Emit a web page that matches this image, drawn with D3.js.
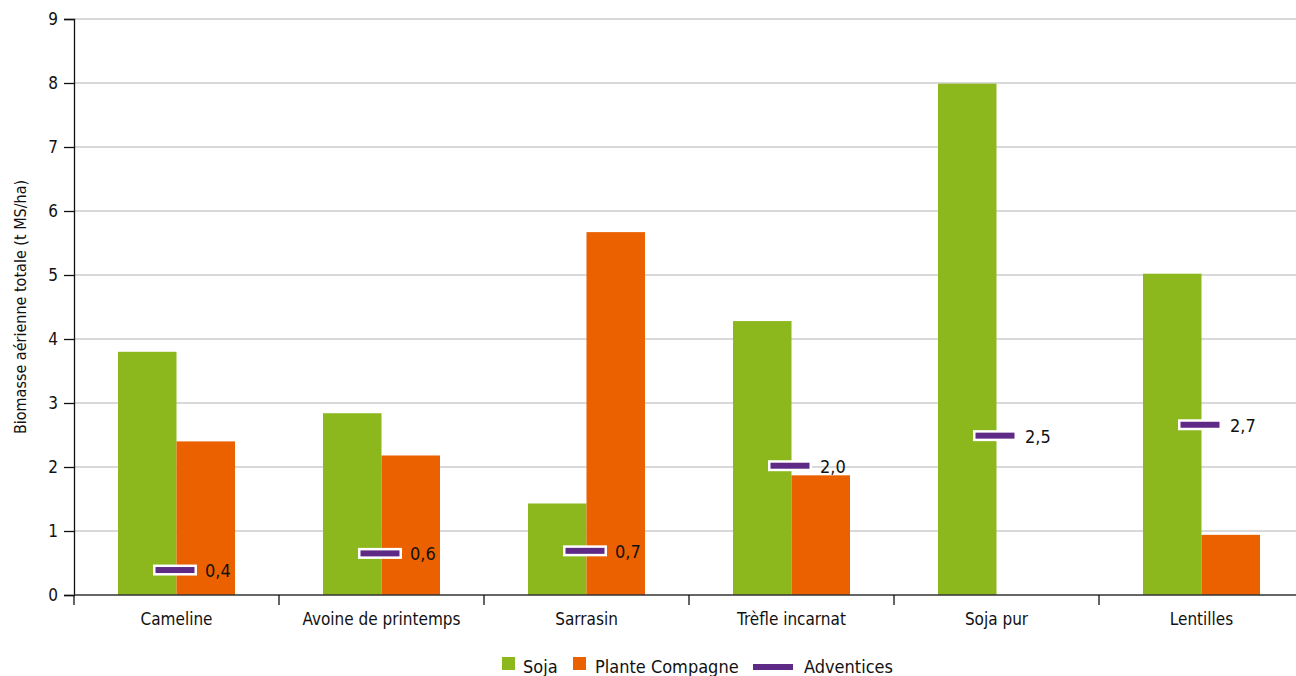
<!DOCTYPE html>
<html><head><meta charset="utf-8">
<script src="https://cdn.jsdelivr.net/npm/d3@7/dist/d3.min.js"></script>
<style>
body{margin:0;background:#fff;}
text{font-family:"Liberation Sans Narrow","DejaVu Sans Condensed","Liberation Sans",sans-serif;fill:#111;}
</style></head><body>
<svg id="c" width="1296" height="676"></svg>
<script>
const categories = ["Cameline","Avoine de printemps","Sarrasin","Trèfle incarnat","Soja pur","Lentilles"];
const soja = [3.8, 2.84, 1.43, 4.28, 7.99, 5.02];
const compagne = [2.4, 2.18, 5.67, 1.87, 0, 0.94];
const adventices = [0.39, 0.65, 0.69, 2.02, 2.49, 2.66];
const adventicesLabels = ["0,4","0,6","0,7","2,0","2,5","2,7"];
const yTicks = [0,1,2,3,4,5,6,7,8,9];
const seriesNames = ["Soja","Plante Compagne","Adventices"];
const colors = {soja:"#8cb81e", compagne:"#eb6100", adv:"#5f2a85"};

(function(){
const svg = d3.select("#c");
const mLeft=74, mRight=1304, mTop=19, mBottom=595;
const x = d3.scaleBand().domain(categories).range([mLeft,mRight]).paddingInner(0).paddingOuter(0);
const y = d3.scaleLinear().domain([0,9]).range([mBottom,mTop]);
const barW = 58.5;

// grid
svg.append("g").selectAll("line").data(yTicks.filter(d=>d>0)).join("line")
  .attr("x1",mLeft).attr("x2",1296).attr("y1",d=>y(d)).attr("y2",d=>y(d))
  .attr("stroke","#d9d9d9").attr("stroke-width",2);

// bars
const g = svg.append("g");
categories.forEach((c,i)=>{
  const cx = x(c)+x.bandwidth()/2;
  g.append("rect").attr("x",cx-barW).attr("width",barW).attr("y",y(soja[i])).attr("height",y(0)-y(soja[i])).attr("fill",colors.soja);
  if(compagne[i]>0) g.append("rect").attr("x",cx).attr("width",barW).attr("y",y(compagne[i])).attr("height",y(0)-y(compagne[i])).attr("fill",colors.compagne);
});

// axes
const yAxis = d3.axisLeft(y).tickValues(yTicks).tickSize(10).tickPadding(6);
const ya = svg.append("g").attr("transform",`translate(${mLeft},0)`).call(yAxis);
ya.select(".domain").attr("stroke","#111").attr("stroke-width",1.3);
ya.selectAll(".tick line").attr("stroke","#111").attr("stroke-width",1.3);
ya.selectAll(".tick text").style("font-size","17px").attr("fill","#111");

const xAxis = d3.axisBottom(x).tickSize(0).tickPadding(18);
const xa = svg.append("g").attr("transform",`translate(0,${mBottom})`).call(xAxis);
xa.select(".domain").remove();
xa.append("line").attr("x1",mLeft).attr("x2",1296).attr("y1",0).attr("y2",0).attr("stroke","#333").attr("stroke-width",1.5);
xa.selectAll(".tick text").style("font-size","17px").attr("fill","#111");
xa.selectAll(".sep").data(categories.concat(["end"])).join("line").attr("class","sep")
  .attr("x1",(d,i)=>mLeft+i*x.bandwidth()).attr("x2",(d,i)=>mLeft+i*x.bandwidth())
  .attr("y1",0).attr("y2",10).attr("stroke","#111").attr("stroke-width",1.3);

// adventices markers
categories.forEach((c,i)=>{
  const cx = x(c)+x.bandwidth()/2 - 1.5;
  const yy = y(adventices[i]);
  svg.append("rect").attr("x",cx-22).attr("y",yy-5.5).attr("width",44).attr("height",11).attr("fill","#fff");
  svg.append("rect").attr("x",cx-19.5).attr("y",yy-3).attr("width",39).attr("height",6).attr("fill",colors.adv);
  svg.append("text").attr("x",cx+30).attr("y",yy+7).style("font-size","18px").text(adventicesLabels[i]);
});

// y title
svg.append("text").attr("transform",`translate(26,${(mTop+mBottom)/2}) rotate(-90)`).attr("text-anchor","middle")
  .style("font-size","16px").text("Biomasse aérienne totale (t MS/ha)");

// legend
const lg = svg.append("g");
lg.append("rect").attr("x",502).attr("y",657).attr("width",13).attr("height",13).attr("fill",colors.soja);
lg.append("text").attr("x",523).attr("y",673).style("font-size","18px").text(seriesNames[0]);
lg.append("rect").attr("x",573).attr("y",657).attr("width",13).attr("height",13).attr("fill",colors.compagne);
lg.append("text").attr("x",595).attr("y",673).style("font-size","18px").text(seriesNames[1]);
lg.append("rect").attr("x",753).attr("y",664).attr("width",40).attr("height",6).attr("fill",colors.adv);
lg.append("text").attr("x",804).attr("y",673).style("font-size","18px").text(seriesNames[2]);
})();
</script></body></html>
